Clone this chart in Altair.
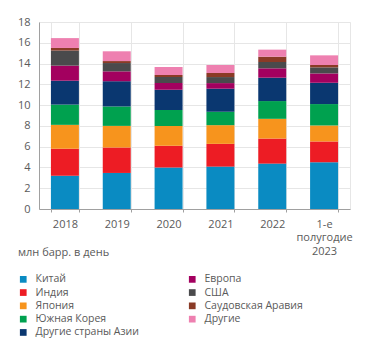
import altair as alt
import pandas as pd

categories = ["2018", "2019", "2020", "2021", "2022", "1-е|полугодие|2023"]
series = ["Китай", "Индия", "Япония", "Южная Корея", "Другие страны Азии",
          "Европа", "США", "Саудовская Аравия", "Другие"]
colors = ["#0a8bc2", "#ed1c24", "#f7941d", "#00a14f", "#0a3770",
          "#a3005f", "#4a4a4c", "#8a3a26", "#ee80b0"]
values = {
    "Китай":              [3.20, 3.47, 3.99, 4.08, 4.37, 4.50],
    "Индия":              [2.60, 2.45, 2.09, 2.19, 2.41, 2.00],
    "Япония":             [2.30, 2.08, 1.92, 1.80, 1.90, 1.54],
    "Южная Корея":        [1.95, 1.87, 1.52, 1.29, 1.71, 2.06],
    "Другие страны Азии": [2.30, 2.43, 1.96, 2.22, 2.25, 2.05],
    "Европа":             [1.45, 0.95, 0.64, 0.54, 0.90, 0.90],
    "США":                [1.45, 0.80, 0.58, 0.58, 0.61, 0.58],
    "Саудовская Аравия":  [0.25, 0.19, 0.20, 0.39, 0.51, 0.23],
    "Другие":             [0.95, 0.94, 0.77, 0.77, 0.68, 0.93],
}
y_ticks = [0, 2, 4, 6, 8, 10, 12, 14, 16, 18]
unit_title = "млн барр. в день"

rows = []
for si, s in enumerate(series):
    for ci, c in enumerate(categories):
        rows.append({"cat": c, "series": s, "value": values[s][ci], "idx": si})
df = pd.DataFrame(rows)

FONT = "Open Sans"
TXT = "#5a5a5a"

chart = alt.Chart(df).mark_bar().encode(
    x=alt.X("cat:N", sort=categories, title=None,
            scale=alt.Scale(paddingInner=0.46, paddingOuter=0.23),
            axis=alt.Axis(labelAngle=0, labelExpr="split(datum.label, '|')",
                          labelLineHeight=13.5, labelPadding=6,
                          grid=True, bandPosition=0, gridColor="#e6e6e6",
                          ticks=True, tickSize=3, tickColor="#a0a0a0",
                          tickBand="extent",
                          domainColor="#a0a0a0")),
    y=alt.Y("value:Q", title=None, stack="zero",
            scale=alt.Scale(domain=[0, 18], nice=False),
            axis=alt.Axis(values=y_ticks, grid=True, gridColor="#e6e6e6",
                          ticks=False, labelPadding=9, domainColor="#a0a0a0")),
    color=alt.Color("series:N",
                    scale=alt.Scale(domain=series, range=colors),
                    legend=alt.Legend(title=unit_title, orient="none",
                                      legendX=-21, legendY=225, columns=2,
                                      columnPadding=48, rowPadding=2.3,
                                      symbolType="square", symbolSize=45,
                                      symbolStrokeWidth=0, labelOffset=7,
                                      titlePadding=16, titleFontWeight="normal")),
    order=alt.Order("idx:Q", sort="ascending"),
).properties(
    width=311, height=187,
    autosize=alt.AutoSizeParams(type="none"),
    padding={"left": 31, "top": 14, "right": 12, "bottom": 130},
).configure(
    font=FONT,
).configure_axis(
    labelFont=FONT, labelFontSize=11, labelColor=TXT,
).configure_legend(
    labelFont=FONT, labelFontSize=10.5, labelColor=TXT,
    titleFont=FONT, titleFontSize=11, titleColor=TXT,
).configure_view(
    stroke="#e6e6e6",
)

chart.save("out.html", embed_options={"renderer": "svg", "actions": False})
